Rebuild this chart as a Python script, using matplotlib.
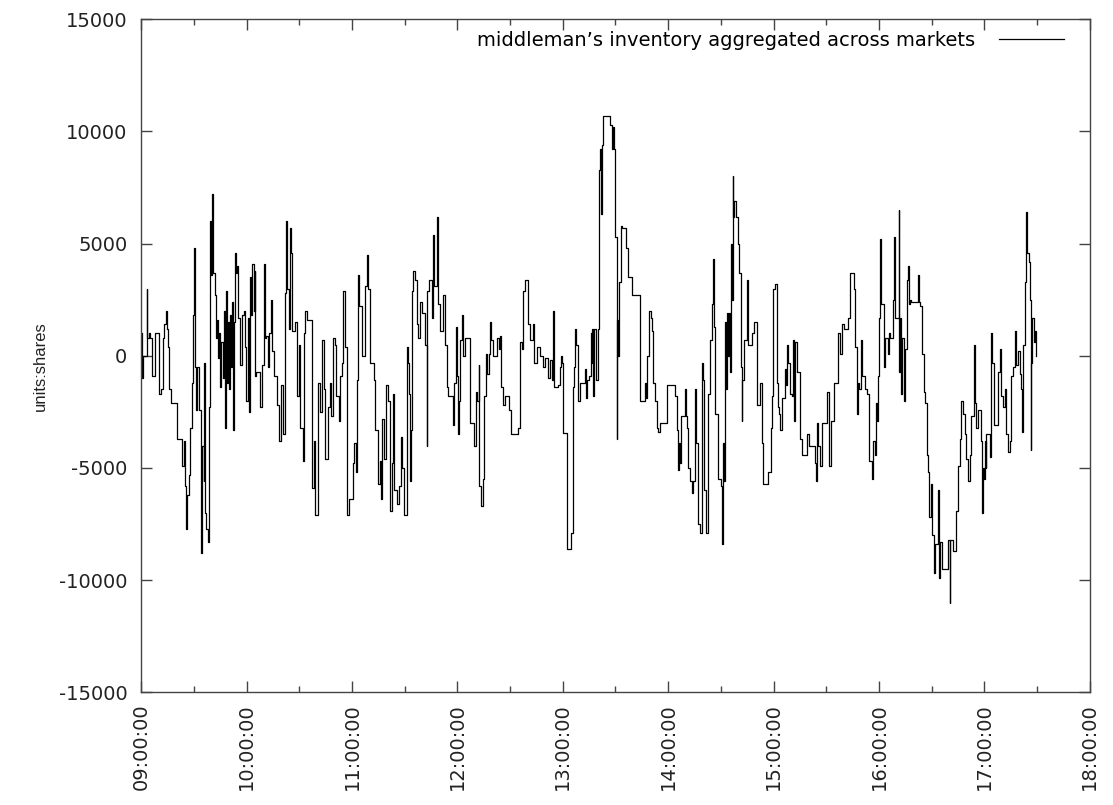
import matplotlib
matplotlib.use("Agg")
import matplotlib.pyplot as plt
from matplotlib.ticker import MultipleLocator, FixedLocator

# minutes after 09:00 and aggregated inventory (shares)
minutes = [
    0.0, 0.4, 0.8, 3.2, 3.4, 4.2, 5.1, 6.1, 8.0, 9.9, 10.2, 11.4, 12.1, 12.9, 14.0, 14.4,
    15.0, 15.9, 17.1, 20.3, 23.1, 24.1, 24.8, 25.4, 26.0, 26.9, 27.9, 28.8, 29.6, 30.2,
    30.5, 31.1, 31.7, 32.6, 33.8, 34.3, 34.7, 35.5, 35.9, 36.2, 37.0, 37.9, 38.7, 39.3,
    39.8, 40.4, 41.0, 41.7, 42.5, 43.1, 43.6, 44.2, 45.0, 45.5, 46.3, 46.9, 47.4, 48.0,
    48.6, 49.1, 49.7, 50.3, 50.8, 51.4, 52.0, 52.7, 53.3, 53.9, 54.4, 55.0, 56.3, 57.1,
    58.2, 59.2, 59.8, 60.5, 61.3,
    62.0, 62.6, 63.0, 63.9, 64.5, 64.9, 65.3, 67.7, 68.7, 69.6, 70.2, 71.0, 71.9, 72.9,
    73.6, 74.4, 75.3, 77.2, 78.2, 79.5, 80.4, 81.6, 82.3, 82.9, 83.9, 84.4, 85.2, 85.8,
    87.3, 88.6, 89.6, 90.5, 91.8, 92.4, 93.3, 94.3, 97.1, 98.1, 99.0, 100.6, 101.9,
    102.8, 103.8, 104.7, 106.2, 107.6, 108.1, 109.1, 110.4, 110.8, 112.3, 113.3, 114.2,
    114.8, 115.7, 117.1, 118.0,
    120.4, 121.2, 122.3, 122.7, 123.1, 124.0, 125.9, 127.4, 128.4, 128.8, 130.3, 132.2,
    133.1, 135.0, 136.0, 136.5, 137.1, 137.9, 139.4, 140.7, 141.7, 142.6, 143.2, 143.9,
    145.5, 147.0, 147.7, 148.5, 149.3, 151.1, 151.7, 152.3, 152.9, 153.8, 154.4, 154.9,
    155.9, 156.8, 157.8, 158.7, 159.7, 161.6, 162.5, 162.9, 163.9, 165.4, 166.3, 166.7,
    168.2, 169.2, 170.1, 172.0, 173.0, 173.9, 174.9, 177.3, 178.1, 179.2,
    179.6, 180.2, 181.0, 181.5, 182.5, 182.9, 184.4, 187.2, 189.7, 190.3, 191.0, 192.0,
    192.5, 193.5, 194.8, 195.4, 196.2, 197.1, 197.7, 198.6, 199.2, 200.5, 202.4, 203.4,
    204.3, 204.9, 206.2, 207.2, 209.1, 210.6, 214.7, 215.7, 216.6, 217.6, 218.5, 219.9,
    221.4, 222.9, 223.8, 225.2, 227.1, 229.0, 229.9, 231.8, 232.8, 233.7, 234.7, 235.2,
    237.5, 238.5, 239.0, 239.8,
    240.3, 242.2, 244.7, 246.0, 246.4, 246.9, 247.5, 248.8, 249.8, 252.6, 253.2, 254.0,
    255.1, 255.9, 256.4, 256.8, 257.4, 257.8, 258.9, 259.8, 260.6, 261.2, 261.5, 262.1,
    263.1, 266.9, 267.8, 268.8, 269.3, 269.7, 270.6, 271.0, 271.6, 272.2, 272.9, 273.5,
    276.0, 277.3, 279.2, 283.9, 286.8, 287.3, 287.7, 289.2, 290.0, 290.6, 291.5, 292.5,
    293.4, 294.4, 295.3, 299.1,
    303.9, 304.8, 305.4, 306.2, 306.7, 307.3, 309.6, 310.2, 310.5, 311.5, 312.4, 313.4,
    314.3, 315.3, 315.8, 317.2, 318.1, 319.1, 319.6, 320.2, 320.6, 321.3, 322.5, 322.9,
    323.8, 324.8, 325.3, 325.9, 326.7, 328.6, 329.9, 330.4, 331.0, 331.8, 332.3, 332.9,
    333.5, 334.1, 334.6, 335.2, 335.8, 336.1, 336.7, 337.1, 337.7, 338.4, 339.6, 340.3,
    341.5, 341.8, 342.2, 343.3, 344.7, 345.2, 345.6, 347.9, 349.0, 350.4, 352.3, 353.2,
    353.8, 357.0, 358.5, 359.3, 359.9,
    360.8, 361.8, 362.4, 363.3, 363.7, 364.6, 366.5, 367.1, 367.5, 368.4, 369.4, 370.3,
    371.3, 371.7, 372.2, 373.2, 375.1, 376.0, 378.9, 380.4, 383.6, 384.2, 384.9, 385.5,
    386.5, 387.4, 390.2, 391.8, 392.5, 394.4, 396.5, 397.8, 398.8, 400.1, 402.6, 403.5,
    405.8, 406.4, 407.3, 407.9, 408.8, 409.6, 410.2, 412.1, 413.0, 414.5, 415.9, 416.8,
    417.8, 418.3, 419.1, 419.7,
    419.9, 420.4, 421.0, 421.4, 422.9, 423.5, 425.2, 425.8, 426.1, 428.0, 428.6, 429.0,
    431.3, 431.6, 432.0, 432.6, 433.2, 434.1, 434.7, 435.8, 436.4, 437.0, 437.7, 438.5,
    442.4, 442.8, 443.6, 444.5, 445.5, 446.4, 447.4, 448.1, 448.5, 449.5, 450.2, 451.2,
    452.1, 453.6, 454.2, 455.0, 455.9, 459.3, 460.3, 460.7, 462.2, 464.1, 465.0, 466.0,
    466.9, 467.9, 468.8, 469.8, 470.7, 471.7, 472.6, 473.9, 474.5, 475.5, 476.4, 477.9,
    478.7, 479.3,
    479.8, 480.2, 480.8, 481.2, 483.1, 483.7, 484.4, 485.4, 487.8, 488.8, 489.7, 490.7,
    491.6, 492.6, 493.5, 494.5, 495.4, 496.4, 497.3, 497.9, 499.2, 500.2, 501.1, 501.7,
    502.1, 503.0, 504.0, 504.3, 505.5, 505.9, 506.4, 506.8, 507.4, 508.1, 508.7, 509.6,
]
inventory = [
    1000, -1000, 0, 3000, 800, 1000, 800, -900, 1000, -1700, -1700, -1500, 800, 1400, 2000, 1200,
    400, -1500, -2100, -3700, -4900, -3800, -5800, -7700, -6200, -5300, -3200, -1200, 1800, 4800,
    -500, -2400, -500, -2400, -8800, -7600, -4000, -5600, -300, -7000, -7700, -8300, -2300, 6000,
    3600, 7200, 3700, 2700, 800, 1600, -100, 1000, -1400, 600, -1000, 2000, -3200, 2900,
    -1200, 1500, -1500, 1800, -500, 2400, -3300, 1500, 4600, 3700, 4000, 1700, -400, 1800,
    2000, 400, -2000, 1700, -2500,
    3500, 1800, 4100, 2000, 3800, -900, -700, -2300, -400, 4100, 800, 900, -500, 1000,
    2500, 200, -900, -2200, -3800, -1300, -3500, 2800, 6000, 3000, 1200, 5700, 4600, 1100,
    1500, -1800, 500, -3200, -4700, 1000, 2000, 1600, -5900, -3800, -7100, -1200, -2500,
    700, -1500, -4600, -2300, -1200, -2700, 800, 500, -1800, -2900, -900, -300,
    2900, 400, -7100, -6400,
    -4800, -3900, -5200, -1100, 3600, 2200, 0, 3100, 4500, 3000, -300, -1100,
    -3300, -5700, -4700, -6400, -2800, -4600, -1300, -2000, -6900, -4800, -1700, -6000,
    -6600, -5800, -3600, -5000, -7100, 400, -300, -1700, -5600, -3300, 2900, 3800,
    3400, 1400, 800, 2400, 1900, 500, -4000, 2900, 3400, 1700, 5400, 3100,
    6200, 2300, 1100, 2700, 500, -1400, -1800, -3100, -1200, 1300,
    -900, -3500, -2000, 700, 1800, 0, 800, -3000, -4000, -1600, -2000, -400,
    -5800, -6700, -5500, -1800, 100, -800, 100, 1500, 700, 0, 800, 300,
    900, -1400, -2200, -1800, -2400, -3500, -3200, 600, 300, 2900, 3400, 1400,
    700, 1400, -300, 400, 0, -500, -100, -1000, -200, -1100, 2000, -1400,
    -1300, -500, 0, -300,
    -3450, -8600, -7900, -1400, -500, 1200, 500, -2000, -1200, -600, -1900, -1100,
    -900, 1000, -300, 1200, -1800, 1200, -1100, 1200, 8300, 9200, 6300, 9400,
    10700, 10300, 9200, 10200, 9200, 5300, -3700, 1600, 0, 3300, 5800, 5700,
    4800, 3500, 2700, -2000, -1200, -1900, 0, 2000, 1700, 1100, -1200, -2000,
    -3200, -3400, -3000, -1300,
    -1800, -3300, -5100, -3900, -4800, -2700, -1500, -2700, -3200, -5000, -5600, -6100,
    -5600, -1500, -3900, -7500, -7900, -300, -1100, -2000, -6000, -7900, -2600, -1700,
    700, 2300, 4300, 1300, -2600, -5500, -5800, -8400, -3900, -5600, 1500, -1500,
    1900, 0, 1900, -700, 5000, 2500, 8000, 6200, 6900, 6200, 5000, 3700,
    -500, -2900, -1100, 700, 3400, 1400, 500, 1000, 1500, -2200, -1200, -3900,
    -5700, -5200, -3200, -1800, 3000,
    3200, -1200, -2300, -2600, -3300, -1900, -600, -1300, 500, -300, -1700, -1800,
    700, -2900, 600, -700, -3700, -4400, -3500, -4000, -4800, -5600, -3000, -4000,
    -4900, -3000, -1600, -4900, -2900, -1200, 1000, 100, 1400, 1200, 1700, 3700,
    3000, 400, -2600, -1200, -1500, 700, -900, -1500, -1700, -4700, -5500, -3800,
    -4400, -2100, -2900, -900,
    1700, 5200, 3100, 2300, -500, 800, 100, 1000, 800, 2500, 5300, 1700,
    6500, -700, 1700, -1700, 800, -2000, 300, 3400, 4000, 2300, 2500, 2400,
    3600, 2400, 2200, 100, -1600, -2100, -4400, -5200, -7200, -5700, -8000, -9700,
    -8400, -6000, -9900, -8300, -9500, -8200, -11000, -8200, -8700, -6900, -4900, -3700,
    -2000, -2600, -3500, -4600, -5600, -4400, -2700, 500, -2100, -3200, -2400, -3800,
    -7000, -5000,
    -5500, -3800, -5000, -3500, -4500, 1000, -300, -3100, -700, 300, -1800, -2300,
    -1500, -3500, -4300, -3800, -900, -500, 1100, -400, 200, -800, -1500, -3400,
    500, 3300, 6400, 4600, 4200, 2500, -4200, -300, 1700, 600, 1100, 0,
]

hour_ticks = list(range(9, 19))
hour_labels = [f"{h:02d}:00:00" for h in hour_ticks]
y_ticks = [-15000, -10000, -5000, 0, 5000, 10000, 15000]
legend_label = "middleman\u2019s inventory aggregated across markets"

TEXT = "#222222"
FRAME = "#444444"

plt.rcParams["font.family"] = ["DejaVu Sans"]

fig = plt.figure(figsize=(11.13, 8.05), dpi=100)
ax = fig.add_axes([0.127, 0.140, 0.852, 0.836])

hours = [9 + m / 60.0 for m in minutes]
ax.step(hours, inventory, where="post", color="black", linewidth=0.9,
        label=legend_label)

ax.set_xlim(9, 18)
ax.set_ylim(-15000, 15000)
ax.xaxis.set_major_locator(FixedLocator(hour_ticks))
ax.xaxis.set_minor_locator(MultipleLocator(0.5))
ax.set_xticklabels(hour_labels, rotation=90, fontsize=14, color=TEXT)
ax.set_yticks(y_ticks)
ax.set_yticklabels([str(v) for v in y_ticks], fontsize=14, color=TEXT)
ax.tick_params(which="both", direction="in", top=True, right=True,
               color=FRAME, width=1)
ax.tick_params(which="major", length=8)
ax.tick_params(which="minor", length=4)
ax.tick_params(axis="x", which="major", pad=8)
ax.tick_params(axis="y", which="major", pad=10)
for s in ax.spines.values():
    s.set_color(FRAME)
    s.set_linewidth(1)

ax.set_ylabel("units:shares", fontsize=12, color=TEXT,
              family=["Liberation Sans", "DejaVu Sans"])
ax.yaxis.set_label_coords(-0.099, 0.485)

ax.legend(loc="center right", frameon=False, markerfirst=False, fontsize=14,
          handlelength=3.35, handletextpad=1.2, borderpad=0, borderaxespad=0,
          bbox_to_anchor=(1064 / 1113, 1 - 40 / 805),
          bbox_transform=fig.transFigure)

fig.savefig("out.png", dpi=100, facecolor="white")
